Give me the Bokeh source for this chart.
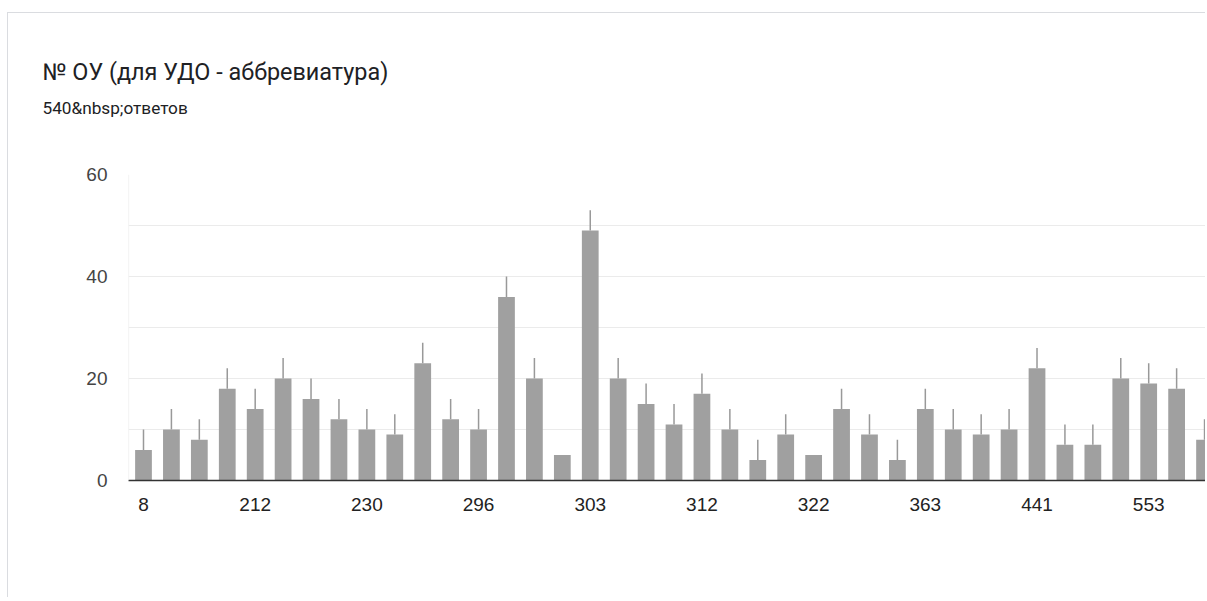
from bokeh.plotting import figure
from bokeh.models import FixedTicker, Span, ColumnDataSource, Range1d, Title
from bokeh.embed import file_html
from bokeh.resources import INLINE

# ---- data ----
title_text = "№ ОУ (для УДО - аббревиатура)"
subtitle_text = "540&nbsp;ответов"
tick_labels = ["8", "212", "230", "296", "303", "312", "322", "363", "441", "553"]
label_step = 4
counts = [6, 10, 8, 18, 14, 20, 16, 12, 10, 9, 23, 12, 10, 36, 20, 5, 49, 20, 15, 11,
          17, 10, 4, 9, 5, 14, 9, 4, 14, 10, 9, 10, 22, 7, 7, 20, 19, 18, 8]
errors = [4, 4, 4, 4, 4, 4, 4, 4, 4, 4, 4, 4, 4, 4, 4, 0, 4, 4, 4, 4,
          4, 4, 4, 4, 0, 4, 4, 4, 4, 4, 4, 4, 4, 4, 4, 4, 4, 4, 4]
y_ticks = [0, 20, 40, 60]
grid_ticks = [10, 20, 30, 40, 50, 60]

xs = list(range(len(counts)))
src = ColumnDataSource(dict(x=xs, top=counts,
                            etop=[c + e for c, e in zip(counts, errors)],
                            err=errors))

x_start, x_end = -0.537, 38.07

p = figure(width=1198, height=585, output_backend="svg", toolbar_location=None,
           x_range=Range1d(x_start, x_end), y_range=Range1d(0, 60),
           min_border_left=120, min_border_top=161, min_border_bottom=118,
           min_border_right=0)
p.styles = {"border-left": "1px solid #dadce0", "border-top": "1px solid #dadce0",
            "margin-top": "12px", "margin-left": "7px"}
p.outline_line_color = None
p.background_fill_color = "white"
p.border_fill_color = "white"

p.vbar(x="x", top="top", width=0.6, source=src, fill_color="#a0a0a0",
       line_color=None)
p.segment(x0="x", y0="top", x1="x", y1="etop", source=src,
          line_color="#999999", line_width=1.5)

# grid
p.xgrid.visible = False
p.ygrid.ticker = FixedTicker(ticks=grid_ticks)
p.ygrid.grid_line_color = "#ebebeb"
p.ygrid.grid_line_width = 1.2
p.add_layout(Span(location=x_start, dimension="height", line_color="#ebebeb",
                  line_width=1.2))

# axes
p.yaxis.ticker = FixedTicker(ticks=y_ticks)
p.yaxis.axis_line_color = None
p.yaxis.major_tick_line_color = None
p.yaxis.minor_tick_line_color = None
p.yaxis.major_tick_out = 0
p.yaxis.major_label_standoff = 21
p.yaxis.major_label_text_font = "Liberation Sans"
p.yaxis.major_label_text_font_size = "19px"
p.yaxis.major_label_text_color = "#444444"

tick_pos = [i * label_step for i in range(len(tick_labels))]
p.xaxis.ticker = FixedTicker(ticks=tick_pos)
p.xaxis.major_label_overrides = {t: lab for t, lab in zip(tick_pos, tick_labels)}
p.xaxis.axis_line_color = "#333333"
p.xaxis.axis_line_width = 1.6
p.xaxis.major_tick_line_color = None
p.xaxis.minor_tick_line_color = None
p.xaxis.major_tick_out = 0
p.xaxis.major_label_standoff = 17
p.xaxis.major_label_text_font = "Liberation Sans"
p.xaxis.major_label_text_font_size = "19px"
p.xaxis.major_label_text_color = "#222222"

# titles (first added sits closest to the plot); a blank spacer lifts them
p.title = None
p.add_layout(Title(text=" ", standoff=54, text_font_size="1px"), "above")
p.add_layout(Title(text=subtitle_text, align="left", offset=-86, standoff=0,
                   text_font="Roboto", text_font_size="17.2px",
                   text_font_style="normal", text_color="#202124"), "above")
p.add_layout(Title(text=title_text, align="left", offset=-86, standoff=18.6,
                   text_font="Roboto", text_font_size="23.4px",
                   text_font_style="normal", text_color="#202124"), "above")

open("out.html", "w").write(file_html(p, INLINE))
